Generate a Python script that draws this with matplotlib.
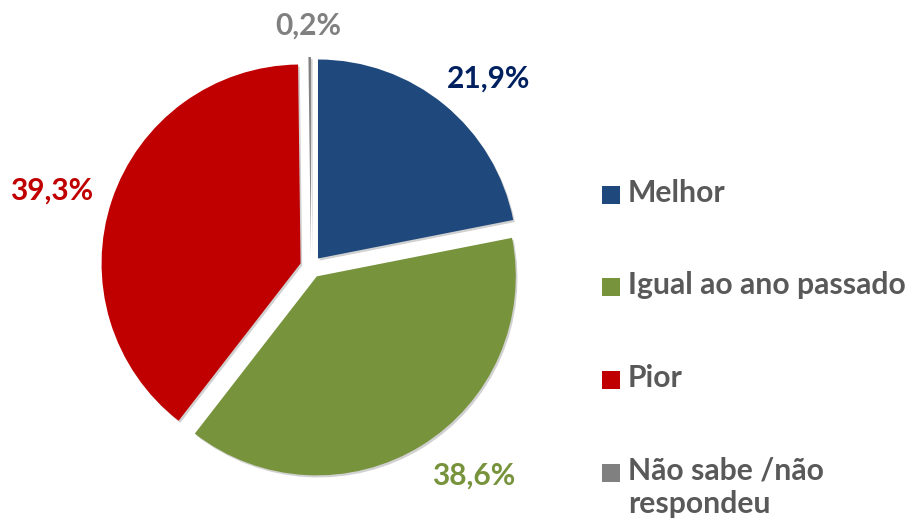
import matplotlib.pyplot as plt
import matplotlib.patheffects as pe
from matplotlib.patches import Rectangle

categories = ["Melhor", "Igual ao ano passado", "Pior", "Não sabe /não\nrespondeu"]
values = [21.9, 38.6, 39.3, 0.2]
pct_labels = ["21,9%", "38,6%", "39,3%", "0,2%"]

slice_colors = ["#1F497D", "#77933C", "#C00000", "#808080"]
label_colors = ["#002060", "#77933C", "#C00000", "#808080"]
legend_text_color = "#595959"

plt.rcParams['font.family'] = ['Lato', 'DejaVu Sans']

W, H = 908, 526
fig = plt.figure(figsize=(W / 100, H / 100), dpi=100)
ax = fig.add_axes([0, 0, 1, 1])

# pie in pixel space, centre around (311, 267) from top; explode is in data units
wedges, _ = ax.pie(values, radius=199, center=(311, H - 267), startangle=90,
                   counterclock=False, colors=slice_colors,
                   explode=[11] * len(values),
                   wedgeprops=dict(linewidth=0), frame=True)
for w in wedges:
    # soft excel-like shadow
    w.set_path_effects([pe.SimplePatchShadow(offset=(1.2, -1.5), shadow_rgbFace='black', alpha=0.18),
                        pe.Normal()])
ax.set_xlim(0, W)
ax.set_ylim(0, H)
ax.set_aspect('equal')
ax.axis('off')

# percent labels (positions from top-left)
label_pos = [(489, 79), (474, 476), (52, 191), (308, 26)]
for (x, y), txt, c in zip(label_pos, pct_labels, label_colors):
    ax.text(x, H - y, txt, color=c, fontsize=21.5, fontweight='bold',
            ha='center', va='center')

# legend drawn by hand so the square sits on the first line
for i, (name, c) in enumerate(zip(categories, slice_colors)):
    yc = H - (194.5 + 92.8 * i)
    ax.add_patch(Rectangle((602, yc - 9), 18, 18, color=c, lw=0))
    ax.text(628, yc + 16, name, color=legend_text_color, fontsize=21.7,
            fontweight='bold', ha='left', va='top', linespacing=1.2)

fig.savefig("out.png", dpi=100)
